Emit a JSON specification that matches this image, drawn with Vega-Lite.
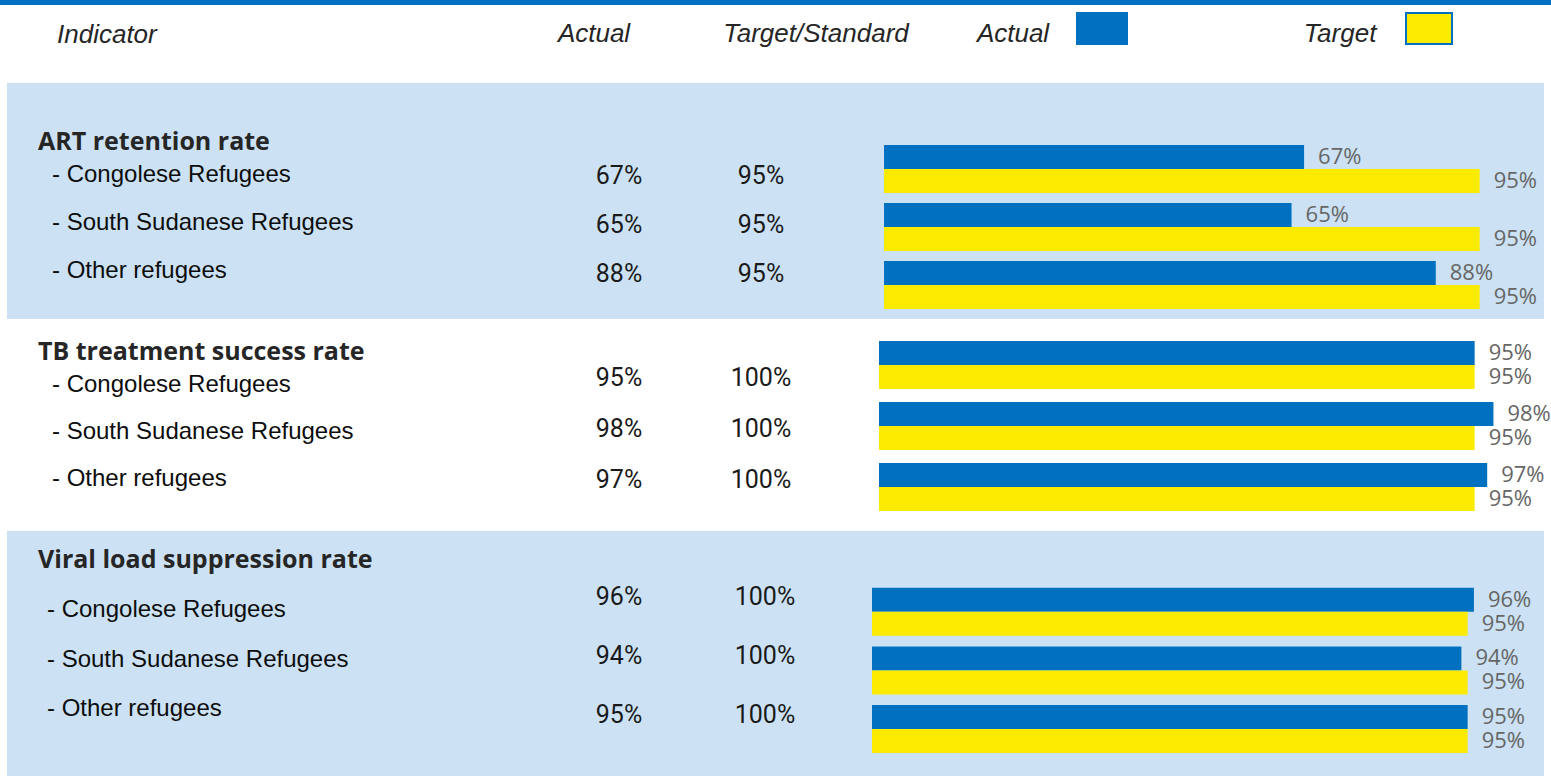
{
  "$schema": "https://vega.github.io/schema/vega-lite/v6.json",
  "background": "#ffffff",
  "padding": 0,
  "autosize": {"type": "pad"},
  "spacing": 0,
  "center": true,
  "bounds": "flush",
  "datasets": {
    "columns": [{"column": "Actual"}, {"column": "Target/Standard"}],
    "series": [{"series": "Actual"}, {"series": "Target"}],
    "art": [
      {"label": "- Congolese Refugees", "Actual": 0.67, "Standard": 0.95, "Target": 0.95},
      {"label": "- South Sudanese Refugees", "Actual": 0.65, "Standard": 0.95, "Target": 0.95},
      {"label": "- Other refugees", "Actual": 0.88, "Standard": 0.95, "Target": 0.95}
    ],
    "tb": [
      {"label": "- Congolese Refugees", "Actual": 0.95, "Standard": 1.0, "Target": 0.95},
      {"label": "- South Sudanese Refugees", "Actual": 0.98, "Standard": 1.0, "Target": 0.95},
      {"label": "- Other refugees", "Actual": 0.97, "Standard": 1.0, "Target": 0.95}
    ],
    "vl": [
      {"label": "- Congolese Refugees", "Actual": 0.96, "Standard": 1.0, "Target": 0.95},
      {"label": "- South Sudanese Refugees", "Actual": 0.94, "Standard": 1.0, "Target": 0.95},
      {"label": "- Other refugees", "Actual": 0.95, "Standard": 1.0, "Target": 0.95}
    ]
  },
  "vconcat": [
    {
      "width": 1551,
      "height": 5,
      "view": {"fill": "#0070c0", "stroke": null},
      "data": {"values": [{}]},
      "mark": {"type": "rect", "color": "#0070c0"},
      "encoding": {}
    },
    {
      "width": 1551,
      "height": 78,
      "view": {"stroke": null},
      "title": {"text": "Indicator", "anchor": "start", "frame": "group", "orient": "top", "offset": -56, "dx": 57, "baseline": "middle", "font": "Liberation Sans", "fontSize": 26, "fontStyle": "italic", "fontWeight": "normal", "color": "#262626"},
      "resolve": {"scale": {"x": "independent", "y": "independent"}},
      "layer": [
        {
          "data": {"name": "columns"},
          "mark": {"type": "text", "font": "Liberation Sans", "fontSize": 26, "fontStyle": "italic", "color": "#262626", "align": "center", "baseline": "middle"},
          "encoding": {
            "x": {"field": "column", "type": "nominal", "sort": null, "scale": {"type": "point", "domain": ["Actual", "Target/Standard"], "range": [594, 816], "padding": 0}, "axis": null},
            "y": {"datum": "header", "type": "nominal", "scale": {"type": "point", "domain": ["header"], "range": [29, 29]}, "axis": null},
            "text": {"field": "column"}
          }
        },
        {
          "data": {"name": "series"},
          "mark": {"type": "text", "font": "Liberation Sans", "fontSize": 26, "fontStyle": "italic", "color": "#262626", "align": "center", "baseline": "middle"},
          "encoding": {
            "x": {"field": "series", "type": "nominal", "sort": null, "scale": {"type": "point", "domain": ["Actual", "Target"], "range": [1013, 1340], "padding": 0}, "axis": null},
            "y": {"datum": "header", "type": "nominal", "scale": {"type": "point", "domain": ["header"], "range": [29, 29]}, "axis": null},
            "text": {"field": "series"}
          }
        },
        {
          "data": {"name": "series"},
          "mark": {"type": "point", "filled": true, "opacity": 1, "stroke": "#0070c0", "strokeWidth": 2, "size": 961},
          "encoding": {
            "x": {"field": "series", "type": "nominal", "sort": null, "scale": {"type": "point", "domain": ["Actual", "Target"], "range": [1102, 1429], "padding": 0}, "axis": null},
            "y": {"datum": "swatch", "type": "nominal", "scale": {"type": "point", "domain": ["swatch"], "range": [23.5, 23.5]}, "axis": null},
            "shape": {"field": "series", "type": "nominal", "scale": {"domain": ["Actual", "Target"], "range": ["M-1.613,-1H1.613V1H-1.613Z", "M-1.484,-1H1.484V1H-1.484Z"]}, "legend": null},
            "color": {"field": "series", "type": "nominal", "scale": {"domain": ["Actual", "Target"], "range": ["#0070c0", "#fbeb00"]}, "legend": null}
          }
        }
      ]
    },
    {
      "width": 1537,
      "height": 236,
      "view": {"fill": "#cce2f4", "stroke": null},
      "title": {"text": "ART retention rate", "anchor": "start", "frame": "group", "orient": "top", "offset": -84, "dx": 31, "baseline": "middle", "font": "Open Sans", "fontSize": 25, "fontWeight": "bold", "color": "#262626"},
      "data": {"name": "art"},
      "resolve": {"scale": {"x": "independent", "y": "independent"}},
      "layer": [
        {
          "transform": [{"fold": ["Actual", "Target"], "as": ["series", "value"]}],
          "mark": {"type": "bar"},
          "encoding": {
            "y": {"field": "label", "type": "nominal", "sort": null, "scale": {"type": "band", "range": [57, 231], "paddingInner": 0.1724, "paddingOuter": 0.0862}, "axis": null},
            "yOffset": {"field": "series", "type": "nominal", "scale": {"domain": ["Actual", "Target"], "paddingInner": 0, "paddingOuter": 0}},
            "x": {"field": "value", "type": "quantitative", "scale": {"domain": [0, 1], "range": [877, 1504]}, "axis": null},
            "color": {"field": "series", "type": "nominal", "scale": {"domain": ["Actual", "Target"], "range": ["#0070c0", "#fbeb00"]}, "legend": null}
          }
        },
        {
          "transform": [{"fold": ["Actual", "Target"], "as": ["series", "value"]}],
          "mark": {"type": "text", "align": "left", "baseline": "middle", "dx": 14, "font": "Open Sans", "fontSize": 22, "color": "#666666"},
          "encoding": {
            "y": {"field": "label", "type": "nominal", "sort": null, "scale": {"type": "band", "range": [57, 231], "paddingInner": 0.1724, "paddingOuter": 0.0862}, "axis": null},
            "yOffset": {"field": "series", "type": "nominal", "scale": {"domain": ["Actual", "Target"], "paddingInner": 0, "paddingOuter": 0}},
            "x": {"field": "value", "type": "quantitative", "scale": {"domain": [0, 1], "range": [877, 1504]}, "axis": null},
            "text": {"field": "value", "type": "quantitative", "format": ".0%"}
          }
        },
        {
          "transform": [{"fold": ["Actual", "Standard"], "as": ["column", "value"]}],
          "mark": {"type": "text", "align": "center", "baseline": "middle", "font": "Roboto", "fontSize": 25, "fontWeight": 400, "color": "#1a1a1a"},
          "encoding": {
            "y": {"field": "label", "type": "nominal", "sort": null, "scale": {"type": "point", "range": [93, 191], "padding": 0}, "axis": null},
            "x": {"field": "column", "type": "nominal", "sort": null, "scale": {"type": "point", "domain": ["Actual", "Standard"], "range": [612, 754], "padding": 0}, "axis": null},
            "text": {"field": "value", "type": "quantitative", "format": ".0%"}
          }
        },
        {
          "mark": {"type": "text", "align": "left", "baseline": "middle", "font": "Liberation Sans", "fontSize": 24, "color": "#0d0d0d"},
          "encoding": {
            "y": {"field": "label", "type": "nominal", "sort": null, "scale": {"type": "point", "range": [92, 188], "padding": 0}, "axis": null},
            "x": {"datum": "Indicator", "type": "nominal", "scale": {"type": "point", "domain": ["Indicator"], "range": [45, 45]}, "axis": null},
            "text": {"field": "label"}
          }
        }
      ]
    },
    {
      "width": 1537,
      "height": 212,
      "view": {"fill": "#ffffff", "stroke": null},
      "title": {"text": "TB treatment success rate", "anchor": "start", "frame": "group", "orient": "top", "offset": -58, "dx": 31, "baseline": "middle", "font": "Open Sans", "fontSize": 25, "fontWeight": "bold", "color": "#262626"},
      "data": {"name": "tb"},
      "resolve": {"scale": {"x": "independent", "y": "independent"}},
      "layer": [
        {
          "transform": [{"fold": ["Actual", "Target"], "as": ["series", "value"]}],
          "mark": {"type": "bar"},
          "encoding": {
            "y": {"field": "label", "type": "nominal", "sort": null, "scale": {"type": "band", "range": [16, 199], "paddingInner": 0.1967, "paddingOuter": 0.0984}, "axis": null},
            "yOffset": {"field": "series", "type": "nominal", "scale": {"domain": ["Actual", "Target"], "paddingInner": 0, "paddingOuter": 0}},
            "x": {"field": "value", "type": "quantitative", "scale": {"domain": [0, 1], "range": [872, 1499]}, "axis": null},
            "color": {"field": "series", "type": "nominal", "scale": {"domain": ["Actual", "Target"], "range": ["#0070c0", "#fbeb00"]}, "legend": null}
          }
        },
        {
          "transform": [{"fold": ["Actual", "Target"], "as": ["series", "value"]}],
          "mark": {"type": "text", "align": "left", "baseline": "middle", "dx": 14, "font": "Open Sans", "fontSize": 22, "color": "#666666"},
          "encoding": {
            "y": {"field": "label", "type": "nominal", "sort": null, "scale": {"type": "band", "range": [16, 199], "paddingInner": 0.1967, "paddingOuter": 0.0984}, "axis": null},
            "yOffset": {"field": "series", "type": "nominal", "scale": {"domain": ["Actual", "Target"], "paddingInner": 0, "paddingOuter": 0}},
            "x": {"field": "value", "type": "quantitative", "scale": {"domain": [0, 1], "range": [872, 1499]}, "axis": null},
            "text": {"field": "value", "type": "quantitative", "format": ".0%"}
          }
        },
        {
          "transform": [{"fold": ["Actual", "Standard"], "as": ["column", "value"]}],
          "mark": {"type": "text", "align": "center", "baseline": "middle", "font": "Roboto", "fontSize": 25, "fontWeight": 400, "color": "#1a1a1a"},
          "encoding": {
            "y": {"field": "label", "type": "nominal", "sort": null, "scale": {"type": "point", "range": [59, 161], "padding": 0}, "axis": null},
            "x": {"field": "column", "type": "nominal", "sort": null, "scale": {"type": "point", "domain": ["Actual", "Standard"], "range": [612, 754], "padding": 0}, "axis": null},
            "text": {"field": "value", "type": "quantitative", "format": ".0%"}
          }
        },
        {
          "mark": {"type": "text", "align": "left", "baseline": "middle", "font": "Liberation Sans", "fontSize": 24, "color": "#0d0d0d"},
          "encoding": {
            "y": {"field": "label", "type": "nominal", "sort": null, "scale": {"type": "point", "range": [66, 160], "padding": 0}, "axis": null},
            "x": {"datum": "Indicator", "type": "nominal", "scale": {"type": "point", "domain": ["Indicator"], "range": [45, 45]}, "axis": null},
            "text": {"field": "label"}
          }
        }
      ]
    },
    {
      "width": 1537,
      "height": 245,
      "view": {"fill": "#cce2f4", "stroke": null},
      "title": {"text": "Viral load suppression rate", "anchor": "start", "frame": "group", "orient": "top", "offset": -54, "dx": 31, "baseline": "middle", "font": "Open Sans", "fontSize": 25, "fontWeight": "bold", "color": "#262626"},
      "data": {"name": "vl"},
      "resolve": {"scale": {"x": "independent", "y": "independent"}},
      "layer": [
        {
          "transform": [{"fold": ["Actual", "Target"], "as": ["series", "value"]}],
          "mark": {"type": "bar"},
          "encoding": {
            "y": {"field": "label", "type": "nominal", "sort": null, "scale": {"type": "band", "range": [52, 228], "paddingInner": 0.162, "paddingOuter": 0.081}, "axis": null},
            "yOffset": {"field": "series", "type": "nominal", "scale": {"domain": ["Actual", "Target"], "paddingInner": 0, "paddingOuter": 0}},
            "x": {"field": "value", "type": "quantitative", "scale": {"domain": [0, 1], "range": [865, 1492]}, "axis": null},
            "color": {"field": "series", "type": "nominal", "scale": {"domain": ["Actual", "Target"], "range": ["#0070c0", "#fbeb00"]}, "legend": null}
          }
        },
        {
          "transform": [{"fold": ["Actual", "Target"], "as": ["series", "value"]}],
          "mark": {"type": "text", "align": "left", "baseline": "middle", "dx": 14, "font": "Open Sans", "fontSize": 22, "color": "#666666"},
          "encoding": {
            "y": {"field": "label", "type": "nominal", "sort": null, "scale": {"type": "band", "range": [52, 228], "paddingInner": 0.162, "paddingOuter": 0.081}, "axis": null},
            "yOffset": {"field": "series", "type": "nominal", "scale": {"domain": ["Actual", "Target"], "paddingInner": 0, "paddingOuter": 0}},
            "x": {"field": "value", "type": "quantitative", "scale": {"domain": [0, 1], "range": [865, 1492]}, "axis": null},
            "text": {"field": "value", "type": "quantitative", "format": ".0%"}
          }
        },
        {
          "transform": [{"fold": ["Actual", "Standard"], "as": ["column", "value"]}],
          "mark": {"type": "text", "align": "center", "baseline": "middle", "font": "Roboto", "fontSize": 25, "fontWeight": 400, "color": "#1a1a1a"},
          "encoding": {
            "y": {"field": "label", "type": "nominal", "sort": null, "scale": {"type": "point", "range": [66, 184], "padding": 0}, "axis": null},
            "x": {"field": "column", "type": "nominal", "sort": null, "scale": {"type": "point", "domain": ["Actual", "Standard"], "range": [612, 758], "padding": 0}, "axis": null},
            "text": {"field": "value", "type": "quantitative", "format": ".0%"}
          }
        },
        {
          "mark": {"type": "text", "align": "left", "baseline": "middle", "font": "Liberation Sans", "fontSize": 24, "color": "#0d0d0d"},
          "encoding": {
            "y": {"field": "label", "type": "nominal", "sort": null, "scale": {"type": "point", "range": [79, 178], "padding": 0}, "axis": null},
            "x": {"datum": "Indicator", "type": "nominal", "scale": {"type": "point", "domain": ["Indicator"], "range": [40, 40]}, "axis": null},
            "text": {"field": "label"}
          }
        }
      ]
    }
  ],
  "config": {"view": {"stroke": null}}
}
